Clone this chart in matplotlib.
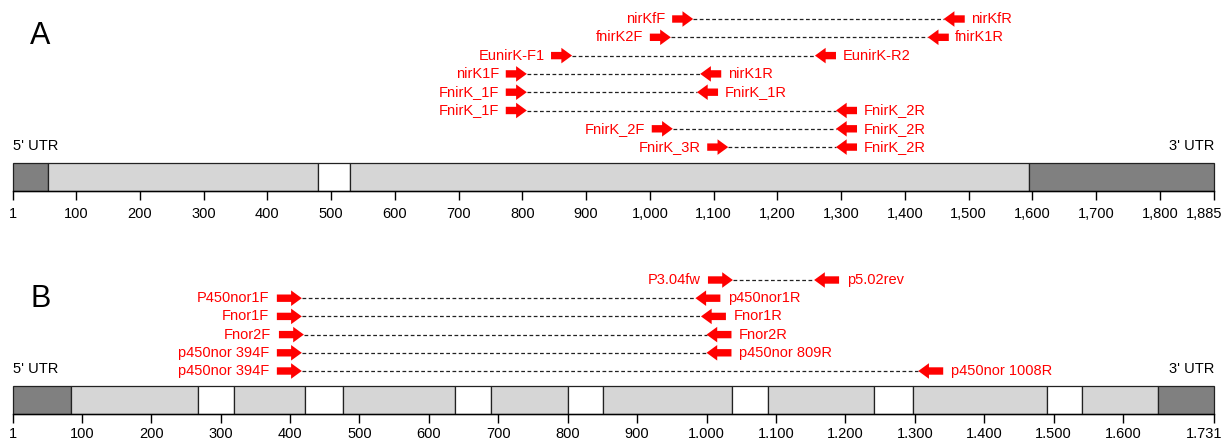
import matplotlib
matplotlib.use("Agg")
import matplotlib.pyplot as plt
from matplotlib.patches import Rectangle
from matplotlib.transforms import ScaledTranslation

plt.rcParams['font.family'] = ['Liberation Sans', 'DejaVu Sans']

# ---- panel A (nirK, 1885 bp) ----
len_a = 1885
seg_a = [(1, 56, 'utr'), (56, 480, 'exon'), (480, 530, 'gap'),
         (530, 1595, 'exon'), (1595, 1885, 'utr')]
ticks_a = [1, 100, 200, 300, 400, 500, 600, 700, 800, 900, 1000, 1100,
           1200, 1300, 1400, 1500, 1600, 1700, 1800, 1885]
fwd_names_a = ['nirKfF', 'fnirK2F', 'EunirK-F1', 'nirK1F', 'FnirK_1F',
               'FnirK_1F', 'FnirK_2F', 'FnirK_3R']
fwd_pos_a = [1068, 1033, 878, 807, 807, 807, 1036, 1123]
rev_names_a = ['nirKfR', 'fnirK1R', 'EunirK-R2', 'nirK1R', 'FnirK_1R',
               'FnirK_2R', 'FnirK_2R', 'FnirK_2R']
rev_pos_a = [1461, 1436, 1259, 1079, 1074, 1292, 1292, 1292]

# ---- panel B (p450nor, 1731 bp) ----
len_b = 1731
seg_b = [(1, 84, 'utr'), (84, 267, 'exon'), (267, 319, 'gap'),
         (319, 421, 'exon'), (421, 477, 'gap'), (477, 638, 'exon'),
         (638, 689, 'gap'), (689, 801, 'exon'), (801, 851, 'gap'),
         (851, 1037, 'exon'), (1037, 1089, 'gap'), (1089, 1241, 'exon'),
         (1241, 1297, 'gap'), (1297, 1490, 'exon'), (1490, 1541, 'gap'),
         (1541, 1651, 'exon'), (1651, 1731, 'utr')]
ticks_b = [1, 100, 200, 300, 400, 500, 600, 700, 800, 900, 1000, 1100,
           1200, 1300, 1400, 1500, 1600, 1731]
fwd_names_b = ['P3.04fw', 'P450nor1F', 'Fnor1F', 'Fnor2F',
               'p450nor 394F', 'p450nor 394F']
fwd_pos_b = [1038, 417, 417, 420, 417, 417]
rev_names_b = ['p5.02rev', 'p450nor1R', 'Fnor1R', 'Fnor2R',
               'p450nor 809R', 'p450nor 1008R']
rev_pos_b = [1155, 984, 992, 1000, 1000, 1305]

colors = {'utr': '#808080', 'exon': '#d6d6d6', 'gap': 'white'}
red = '#ff0000'
arrow_style = 'simple,head_length=0.55,head_width=0.8,tail_width=0.38'


def fmt(v, sep):
    return f'{v:,}'.replace(',', sep)


def draw_panel(ax, length, segs, ticks, sep, fn, fp, rn, rp,
               row0, dy, bar_top, bar_bot, letter, letter_y, top, pad):
    ax.set_xlim(1, length)
    ax.set_ylim(bar_bot, top)
    for s, e, kind in segs:
        ax.add_patch(Rectangle((s, bar_top), e - s, bar_bot - bar_top,
                               facecolor=colors[kind], edgecolor='#222222',
                               lw=0.9, clip_on=False))
    for sp in ['top', 'left', 'right']:
        ax.spines[sp].set_visible(False)
    ax.spines['bottom'].set_linewidth(1.0)
    ax.set_yticks([])
    ax.set_xticks(ticks)
    ax.set_xticklabels([fmt(t, sep) for t in ticks], fontsize=10.5)
    ax.tick_params(axis='x', length=6.8, width=1.0, pad=pad)
    # last label pulled in from the edge, as in the original
    last = ax.get_xticklabels()[-1]
    last.set_transform(last.get_transform() +
                       ScaledTranslation(-7 / 72, 0, ax.figure.dpi_scale_trans))

    k = 1885 / length
    alen = 33 * k
    for i in range(len(fn)):
        y = row0 + i * dy
        f, r = fp[i], rp[i]
        ax.plot([f, r], [y, y], ls=(0, (3, 2)), color='#222222', lw=0.9)
        ax.annotate('', xy=(f, y), xytext=(f - alen, y),
                    arrowprops=dict(arrowstyle=arrow_style, color=red, lw=0,
                                    mutation_scale=14, shrinkA=0, shrinkB=0))
        ax.annotate('', xy=(r, y), xytext=(r + alen, y),
                    arrowprops=dict(arrowstyle=arrow_style, color=red, lw=0,
                                    mutation_scale=14, shrinkA=0, shrinkB=0))
        ax.text(f - alen - 10 * k, y, fn[i], color=red,
                fontsize=10.5, ha='right', va='center')
        ax.text(r + alen + 10 * k, y, rn[i], color=red,
                fontsize=10.5, ha='left', va='center')

    ax.text(1, bar_top - 17, "5' UTR", fontsize=10.5, ha='left', va='center')
    ax.text(length, bar_top - 17, "3' UTR", fontsize=10.5, ha='right', va='center')
    ax.text(0.0145, letter_y, letter, fontsize=22, ha='left', va='center',
            transform=ax.transAxes)


fig = plt.figure(figsize=(12.22, 4.43), dpi=100)
W, H = 1222.0, 443.0
left, width = 13 / W, 1201 / W

ax_a = fig.add_axes([left, 1 - 191 / H, width, 191 / H])
draw_panel(ax_a, len_a, seg_a, ticks_a, ',', fwd_names_a, fwd_pos_a,
           rev_names_a, rev_pos_a, 19, 18.3, 163, 191, 'A', 1 - 36 / 191, 0, 4.5)

ax_b = fig.add_axes([left, 1 - 414 / H, width, (414 - 234) / H])
draw_panel(ax_b, len_b, seg_b, ticks_b, '.', fwd_names_b, fwd_pos_b,
           rev_names_b, rev_pos_b, 280, 18.2, 386, 414, 'B',
           1 - (299 - 234) / 180, 234, 2.5)

fig.savefig('out.png', dpi=100)
